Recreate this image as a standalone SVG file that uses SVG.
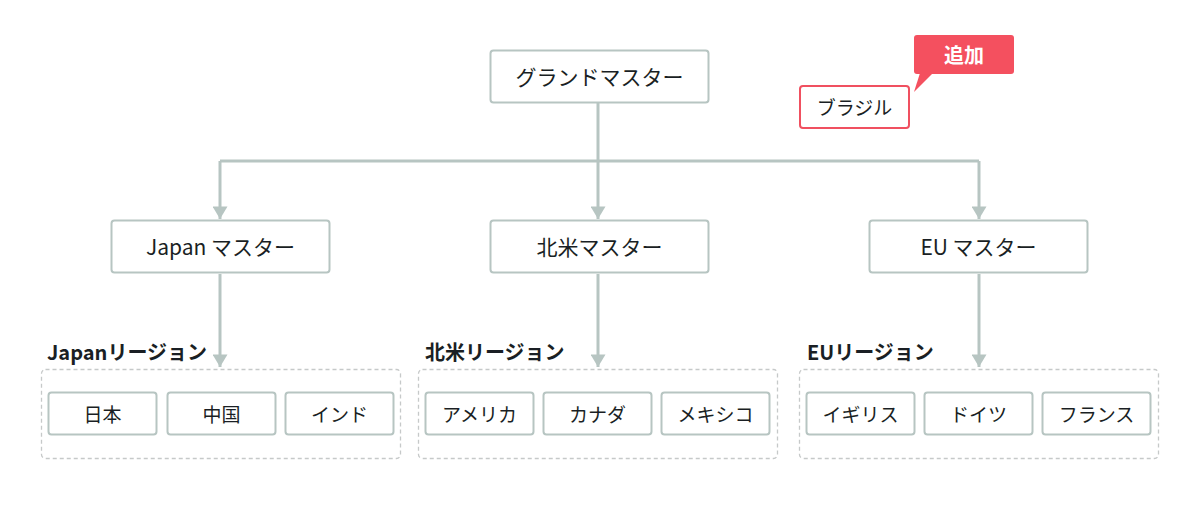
<svg xmlns="http://www.w3.org/2000/svg" width="1200" height="520" viewBox="0 0 1200 520">
<style>
text{font-family:"Noto Sans CJK JP","Noto Sans",sans-serif;fill:#1a1f24;}
.box{fill:#fff;stroke:#b7c5c2;stroke-width:2;}
.m{font-size:21px;text-anchor:middle;dominant-baseline:central;}
.c{font-size:19px;text-anchor:middle;dominant-baseline:central;}
.rg{fill:none;stroke:#c6c9c9;stroke-width:1.3;stroke-dasharray:4 3;}
.rl{font-size:20px;font-weight:700;}
.conn{fill:none;stroke:#b7c5c2;stroke-width:3;}
</style>
<defs>
<marker id="ah" markerUnits="userSpaceOnUse" markerWidth="18" markerHeight="15" refX="15" refY="9" viewBox="0 0 15 18" orient="auto">
<path d="M0,0 L15,9 L0,18 Z" fill="#b7c5c2"/>
</marker>
</defs>
<g id="connectors">
<path class="conn" d="M598,103 V161"/>
<path class="conn" d="M220,161 H979"/>
<path class="conn" d="M220,161 V219" marker-end="url(#ah)"/>
<path class="conn" d="M598,161 V219" marker-end="url(#ah)"/>
<path class="conn" d="M979,161 V219" marker-end="url(#ah)"/>
<path class="conn" d="M220,274 V367" marker-end="url(#ah)"/>
<path class="conn" d="M598,274 V367" marker-end="url(#ah)"/>
<path class="conn" d="M979,274 V367" marker-end="url(#ah)"/>
</g>
<g id="grand-master">
<rect class="box" x="490.5" y="50.5" width="218" height="52" rx="3"/>
<text class="m" x="599.5" y="75.5">グランドマスター</text>
</g>
<g id="brazil">
<rect x="800" y="86" width="109" height="42" rx="3" fill="#fff" stroke="#f05060" stroke-width="2"/>
<text class="c" x="854.5" y="106.5">ブラジル</text>
</g>
<g id="added-callout">
<rect x="914" y="35" width="100" height="39" rx="3" fill="#f4505f"/>
<path d="M920,73 L914,92 L933,73 Z" fill="#f4505f"/>
<text x="964" y="54.5" style="font-size:20px;font-weight:700;fill:#fff;text-anchor:middle;dominant-baseline:central;">追加</text>
</g>
<g id="japan-master">
<rect class="box" x="111.5" y="220.5" width="218" height="52" rx="3"/>
<text class="m" x="220.5" y="245.5">Japan マスター</text>
</g>
<g id="na-master">
<rect class="box" x="490.5" y="220.5" width="218" height="52" rx="3"/>
<text class="m" x="599.5" y="245.5">北米マスター</text>
</g>
<g id="eu-master">
<rect class="box" x="869.5" y="220.5" width="218" height="52" rx="3"/>
<text class="m" x="978.5" y="245.5">EU マスター</text>
</g>
<g id="japan-region">
<text class="rl" x="47" y="360">Japanリージョン</text>
<rect class="rg" x="41.5" y="369.5" width="359" height="89" rx="4"/>
</g>
<g id="na-region">
<text class="rl" x="425" y="360">北米リージョン</text>
<rect class="rg" x="418.5" y="369.5" width="359" height="89" rx="4"/>
</g>
<g id="eu-region">
<text class="rl" x="807" y="360">EUリージョン</text>
<rect class="rg" x="799.5" y="369.5" width="359" height="89" rx="4"/>
</g>
<g id="japan"><rect class="box" x="48.5" y="392.5" width="108" height="42" rx="3"/><text class="c" x="102.5" y="413">日本</text></g>
<g id="china"><rect class="box" x="167.5" y="392.5" width="108" height="42" rx="3"/><text class="c" x="221.5" y="413">中国</text></g>
<g id="india"><rect class="box" x="285.5" y="392.5" width="108" height="42" rx="3"/><text class="c" x="339.5" y="413">インド</text></g>
<g id="usa"><rect class="box" x="425.5" y="392.5" width="108" height="42" rx="3"/><text class="c" x="479.5" y="413">アメリカ</text></g>
<g id="canada"><rect class="box" x="543.5" y="392.5" width="108" height="42" rx="3"/><text class="c" x="597.5" y="413">カナダ</text></g>
<g id="mexico"><rect class="box" x="661.5" y="392.5" width="108" height="42" rx="3"/><text class="c" x="715.5" y="413">メキシコ</text></g>
<g id="uk"><rect class="box" x="806.5" y="392.5" width="108" height="42" rx="3"/><text class="c" x="860.5" y="413">イギリス</text></g>
<g id="germany"><rect class="box" x="924.5" y="392.5" width="108" height="42" rx="3"/><text class="c" x="978.5" y="413">ドイツ</text></g>
<g id="france"><rect class="box" x="1042.5" y="392.5" width="108" height="42" rx="3"/><text class="c" x="1096.5" y="413">フランス</text></g>
</svg>
